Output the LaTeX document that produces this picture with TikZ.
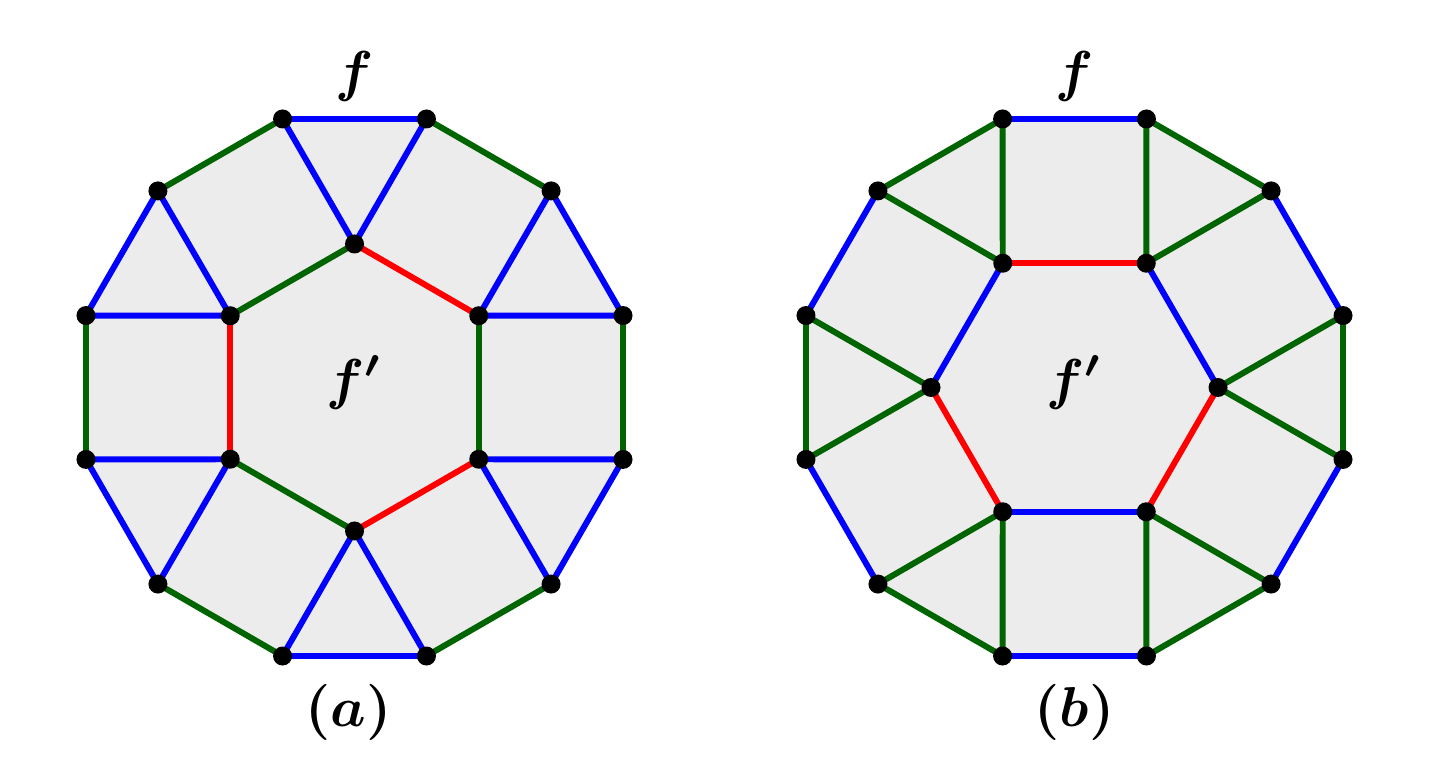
\documentclass[tikz,border=0pt]{standalone}
\usepackage{amsmath,bm}
\definecolor{eblue}{RGB}{0,0,255}
\definecolor{egreen}{RGB}{0,100,0}
\definecolor{ered}{RGB}{255,0,0}
\definecolor{facegray}{RGB}{236,236,236}
\newcommand{\biglab}[1]{\scalebox{3.2}{$\bm{#1}$}}
\tikzset{
  edge/.style={line width=3.4pt, line cap=round},
  bl/.style={edge, draw=eblue},
  gr/.style={edge, draw=egreen},
  rd/.style={edge, draw=ered},
  vtx/.style={circle, fill=black, inner sep=0pt, minimum size=0.38cm},
  lab/.style={inner sep=0pt}
}
\begin{document}
\begin{tikzpicture}
\useasboundingbox (0,0) rectangle (28.82,15.54);
% ---------- (a) ----------
\begin{scope}[shift={(7.09,7.79)}]
  \foreach \k in {0,...,11} \coordinate (a\k) at ({75+30*\k}:5.56);
  \foreach \j in {0,...,5} \coordinate (ai\j) at ({30+60*\j}:2.87);
  \fill[facegray] (a0) \foreach \k in {1,...,11} {-- (a\k)} -- cycle;
  \foreach \k [evaluate=\k as \n using {int(mod(\k+1,12))}] in {0,2,...,10} \draw[bl] (a\k) -- (a\n);
  \foreach \k [evaluate=\k as \n using {int(mod(\k+1,12))}] in {1,3,...,11} \draw[gr] (a\k) -- (a\n);
  \foreach \j [evaluate=\j as \n using {int(mod(\j+1,6))}] in {0,2,4} \draw[rd] (ai\j) -- (ai\n);
  \foreach \j [evaluate=\j as \n using {int(mod(\j+1,6))}] in {1,3,5} \draw[gr] (ai\j) -- (ai\n);
  \foreach \j [evaluate=\j as \p using {int(mod(2*\j+11,12))}, evaluate=\j as \q using {int(mod(2*\j+10,12))}] in {0,...,5}
    {\draw[bl] (ai\j) -- (a\p); \draw[bl] (ai\j) -- (a\q);}
  \foreach \k in {0,...,11} \node[vtx] at (a\k) {};
  \foreach \j in {0,...,5} \node[vtx] at (ai\j) {};
  \node[lab] (fa) at (0,6.23) {\biglab{f}};
  \node[lab] (fpa) at (0,0.1) {\biglab{f'}};
  \node[lab] (capa) at (-0.12,-6.49) {\biglab{(a)}};
\end{scope}
% ---------- (b) ----------
\begin{scope}[shift={(21.49,7.79)}]
  \foreach \k in {0,...,11} \coordinate (b\k) at ({75+30*\k}:5.56);
  \foreach \j in {0,...,5} \coordinate (bi\j) at ({60*\j}:2.87);
  \fill[facegray] (b0) \foreach \k in {1,...,11} {-- (b\k)} -- cycle;
  \foreach \k [evaluate=\k as \n using {int(mod(\k+1,12))}] in {0,2,...,10} \draw[bl] (b\k) -- (b\n);
  \foreach \k [evaluate=\k as \n using {int(mod(\k+1,12))}] in {1,3,...,11} \draw[gr] (b\k) -- (b\n);
  \foreach \j [evaluate=\j as \n using {int(mod(\j+1,6))}] in {0,2,4} \draw[bl] (bi\j) -- (bi\n);
  \foreach \j [evaluate=\j as \n using {int(mod(\j+1,6))}] in {1,3,5} \draw[rd] (bi\j) -- (bi\n);
  \foreach \j [evaluate=\j as \p using {int(mod(2*\j+10,12))}, evaluate=\j as \q using {int(mod(2*\j+9,12))}] in {0,...,5}
    {\draw[gr] (bi\j) -- (b\p); \draw[gr] (bi\j) -- (b\q);}
  \foreach \k in {0,...,11} \node[vtx] at (b\k) {};
  \foreach \j in {0,...,5} \node[vtx] at (bi\j) {};
  \node[lab] (fb) at (0,6.23) {\biglab{f}};
  \node[lab] (fpb) at (0,0.1) {\biglab{f'}};
  \node[lab] (capb) at (0,-6.49) {\biglab{(b)}};
\end{scope}
\end{tikzpicture}
\end{document}
